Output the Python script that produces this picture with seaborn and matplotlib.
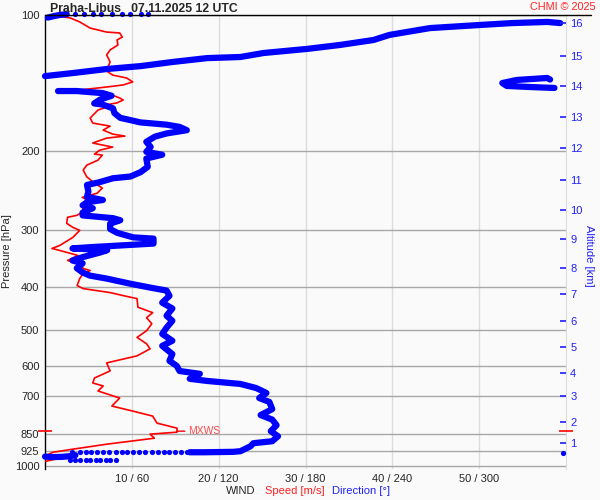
import numpy as np
import pandas as pd
import matplotlib
matplotlib.use("Agg")
import matplotlib.pyplot as plt
from matplotlib.ticker import NullLocator
from matplotlib.lines import Line2D
import seaborn as sns

sns.set_style("white")
plt.rcParams['font.family'] = ['Liberation Sans', 'DejaVu Sans']

# ---------------- data ----------------
title = "Praha-Libus   07.11.2025 12 UTC"

# wind speed profile (m/s) vs pressure (hPa)
speed_ms = [0.6, 2.9, 4.0, 5.2, 7.1, 8.6, 8.9, 8.3, 8.4, 7.5, 7.1, 7.5, 7.2, 7.1, 7.8, 9.4, 10.1, 9.0,
            7.1, 4.0, 5.5, 7.7, 8.6, 9.0, 8.3, 6.9, 7.2, 6.1, 5.2, 5.5, 7.5, 6.7, 7.8, 9.2, 7.1, 5.5,
            7.8, 6.3, 5.7, 6.6, 6.1, 4.8, 4.4, 4.8, 5.7, 6.6, 6.0, 4.3, 5.2, 4.3, 4.4, 3.7, 2.6, 2.5,
            3.2, 4.0, 3.2, 1.7, 0.8, 1.7, 3.8, 2.6, 4.0, 4.4, 5.2, 4.4, 4.0, 3.7, 4.4, 7.5, 9.0, 10.6,
            10.7, 12.4, 11.7, 12.3, 11.7, 10.6, 11.7, 12.1, 10.6, 7.1, 7.5, 5.7, 5.5, 6.7, 6.1, 8.6,
            7.7, 10.1, 12.4, 12.9, 15.2, 15.2, 12.1, 12.6, 7.1, 3.2, 0.9, 0.2, 1.7, 0.8, 0.1]
speed_p = [100, 101.5, 103.6, 106.9, 109.1, 109.6, 111.9, 113.6, 116.5, 119.5, 122.6, 127.1, 131.0,
           133.1, 135.9, 137.9, 140.7, 142.9, 144.4, 146.6, 148.9, 150.4, 152.7, 154.3, 156.6, 158.3,
           159.9, 162.4, 169.2, 173.6, 176.3, 179.9, 183.6, 185.5, 187.4, 192.2, 196.2, 199.3, 203.3,
           204.4, 209.7, 215.2, 220.7, 228.2, 235.9, 241.8, 248.3, 253.5, 259.4, 265.4, 272.3, 277.9,
           280.7, 289.5, 295.5, 300.1, 311.1, 324.1, 329.1, 332.5, 341.1, 349.9, 355.3, 364.5, 368.3,
           374.0, 383.7, 397.7, 403.9, 412.2, 418.6, 425.1, 444.1, 456.7, 468.6, 483.2, 500.8, 518.1,
           535.3, 549.2, 569.3, 590.1, 614.7, 637.3, 653.7, 663.8, 681.0, 706.0, 735.4, 754.5, 774.1,
           802.5, 823.2, 840.3, 848.8, 866.5, 893.5, 916.5, 931.0, 945.0, 960.0, 968.0, 975.0]

mxws_speed = 15.2
mxws_p = 836

# wind direction (deg) vs pressure (hPa), thick traces
dir_main_deg = [100, 110, 120, 130, 135, 142, 144, 157, 161, 156, 160, 157, 149, 157, 155, 148, 153, 146,
                135, 112, 100, 107, 93, 91, 86, 88, 81, 88, 81, 84, 88, 84, 88, 81, 86, 84, 73, 59, 43,
                31, 26, 22, 26, 19, 26, 38, 43, 19, 31, 75, 75, 61, 50, 45, 45, 52, 47, 26, 26, 33, 26,
                29, 40, 29, 30, 29, 37, 47, 59, 66, 71, 70, 81, 70, 73, 70, 76, 84, 98, 93, 84, 66, 52,
                48, 47, 40, 34, 38, 46, 40, 22, 9]
dir_main_p = [931, 931, 930, 929, 926, 903, 889, 880, 858, 836, 811, 788, 770, 747, 720, 706, 688, 671,
              657, 647, 640, 624, 615, 599, 584, 564, 541, 527, 509, 493, 476, 464, 447, 434, 419, 408,
              402, 394, 384, 378, 372, 364, 355, 350, 344, 336, 332, 329, 327, 321, 313, 311, 304, 298,
              290, 285, 282, 278, 274, 268, 264, 260, 257, 253, 246, 238, 235, 230, 228, 223, 217, 208,
              204, 201, 196, 191, 186, 183, 180, 177, 175, 173, 169, 165, 161, 158, 157, 154, 151, 149,
              147.4, 147.4]
dir_hook_deg = [352, 335, 319, 316, 326, 347, 349]
dir_hook_p = [145.1, 144.4, 143.6, 141.5, 139.3, 137.9, 139.0]
dir_jet_deg = [0, 19, 43, 66, 88, 112, 135, 151, 181, 204, 227, 238, 266, 301, 323, 347, 356]
dir_jet_p = [136.6, 134.5, 131.7, 129.8, 127.1, 124.6, 123.9, 121.4, 118.9, 116.5, 113.6, 110.7,
             106.9, 105.2, 104.2, 103.6, 104.2]
dir_top_deg = [2, 6, 10, 15]
dir_top_p = [101.3, 100.6, 100.0, 99.6]
dir_sfc_deg = [0, 6, 12, 17, 21]
dir_sfc_p = [952, 954, 953, 950, 945]

# wind direction, sparse points
dots_top_deg = [21, 27, 33, 39, 46, 53, 59, 66, 71]
dots_top_p = [99.5] * 9
dots_925_deg = [19, 24, 28, 32, 36, 40, 44, 49, 53, 57, 61, 65, 69, 74, 78, 82, 86, 90, 94, 98, 358]
dots_925_p = [931] * 20 + [936]
dots_sfc_deg = [17, 21, 24, 28, 31, 35, 38, 42, 45, 49]
dots_sfc_p = [970] * 10

# axes ticks
p_ticks = [100, 200, 300, 400, 500, 600, 700, 850, 925, 1000]
speed_ticks = [10, 20, 30, 40, 50]
speed_tick_labels = ["10 / 60", "20 / 120", "30 / 180", "40 / 240", "50 / 300"]
alt_km = [1, 2, 3, 4, 5, 6, 7, 8, 9, 10, 11, 12, 13, 14, 15, 16]
alt_p = [888, 797, 699, 621, 544, 476, 415, 363, 314, 270, 232, 197, 168, 144, 123, 104]

# ---------------- figure ----------------
BG = '#fafafa'
RED = '#ff0000'
BLUE = '#0000ff'
TBLUE = '#2020ff'
P_BOTTOM, P_TOP = 1014, 100

fig = plt.figure(figsize=(6, 5), dpi=100, facecolor=BG)
ax = fig.add_axes([45 / 600, 1 - 469 / 500, 521 / 600, 454 / 500])
ax.set_facecolor(BG)
ax.set_yscale('log')
ax.set_ylim(P_BOTTOM, P_TOP)
ax.set_xlim(0, 60)

df_speed = pd.DataFrame({'speed': speed_ms, 'p': speed_p})
sns.lineplot(data=df_speed, x='speed', y='p', sort=False, estimator=None, color=RED,
             lw=1.2, ax=ax, legend=False, zorder=3)

ax.annotate('MXWS', xy=(mxws_speed, mxws_p), xytext=(8, 0), textcoords='offset points',
            color='#ff4a4a', fontsize=7.5, va='center', ha='left',
            arrowprops=dict(arrowstyle='-', color=RED, lw=1.0, shrinkA=0, shrinkB=0))
ax.plot([0, 60], [mxws_p, mxws_p], ls='none', marker='_', ms=10, mew=1.2, color=RED,
        clip_on=False, zorder=5)

ax.set_xticks(speed_ticks, labels=speed_tick_labels)
ax.set_yticks(p_ticks, labels=[str(v) for v in p_ticks])
ax.yaxis.set_minor_locator(NullLocator())
ax.tick_params(axis='x', length=0, pad=3.5, labelsize=8)
ax.tick_params(axis='y', length=0, pad=4, labelsize=8)
ax.xaxis.grid(True, color='#dcdcdc', lw=1)
ax.yaxis.grid(True, color='#a8a8a8', lw=1)
ax.set_axisbelow(True)
ax.set_xlabel('')
ax.set_ylabel('')
ax.spines['left'].set_color('black')
ax.spines['left'].set_linewidth(1)
ax.spines['top'].set_visible(False)
ax.spines['bottom'].set_visible(False)
ax.spines['right'].set_color('#dcdcdc')

# direction axis
ax2 = ax.twiny()
segs = []
for sid, (d, p) in enumerate([(dir_main_deg, dir_main_p), (dir_hook_deg, dir_hook_p),
                              (dir_jet_deg, dir_jet_p), (dir_top_deg, dir_top_p),
                              (dir_sfc_deg, dir_sfc_p)]):
    segs.append(pd.DataFrame({'dir': d, 'p': p, 'seg': sid}))
df_dir = pd.concat(segs, ignore_index=True)
sns.lineplot(data=df_dir, x='dir', y='p', units='seg', estimator=None, sort=False, color=BLUE,
             lw=4.5, ax=ax2, legend=False, clip_on=False, solid_capstyle='round',
             solid_joinstyle='round', zorder=4)
df_dots = pd.DataFrame({'dir': dots_top_deg + dots_925_deg + dots_sfc_deg,
                        'p': dots_top_p + dots_925_p + dots_sfc_p})
sns.scatterplot(data=df_dots, x='dir', y='p', color=BLUE, s=14, linewidth=0, ax=ax2,
                legend=False, clip_on=False, zorder=4)
ax2.set_xlim(0, 360)
ax2.set_ylim(P_BOTTOM, P_TOP)
ax2.set_xticks([])
ax2.set_xlabel('')
ax2.set_ylabel('')
for s in ax2.spines.values():
    s.set_visible(False)

# altitude axis
ax_r = ax.twinx()
ax_r.set_yscale('log')
ax_r.set_ylim(P_BOTTOM, P_TOP)
ax_r.set_yticks(alt_p, labels=[str(k) for k in alt_km])
ax_r.yaxis.set_minor_locator(NullLocator())
ax_r.tick_params(axis='y', direction='in', length=4, width=1.2, color=TBLUE, labelcolor=TBLUE,
                 labelsize=8, pad=3)
for s in ax_r.spines.values():
    s.set_visible(False)

# decorations
fig.add_artist(Line2D([45 / 600, 591 / 600], [1 - 15 / 500] * 2, color='black', lw=1.0,
                      transform=fig.transFigure))
fig.text(50 / 600, 1 - 11.7 / 500, title, fontsize=8.8, fontweight='bold', va='baseline', ha='left')
fig.text(596 / 600, 1 - 10.5 / 500, 'CHMI © 2025', fontsize=7.8, color='#ff2020', va='baseline',
         ha='right')
fig.text(7.5 / 600, 1 - 251 / 500, 'Pressure [hPa]', rotation=90, fontsize=8, va='center',
         ha='center')
fig.text(589 / 600, 1 - 256 / 500, 'Altitude [km]', rotation=270, fontsize=8, va='center',
         ha='center', color=TBLUE)
fig.text(226 / 600, 1 - 491 / 500, 'WIND', fontsize=8, va='center', ha='left')
fig.text(265 / 600, 1 - 491 / 500, 'Speed [m/s]', fontsize=8, va='center', ha='left', color='#ff2020')
fig.text(332 / 600, 1 - 491 / 500, 'Direction [°]', fontsize=8, va='center', ha='left', color=TBLUE)

fig.savefig('out.png', dpi=100, facecolor=BG)
